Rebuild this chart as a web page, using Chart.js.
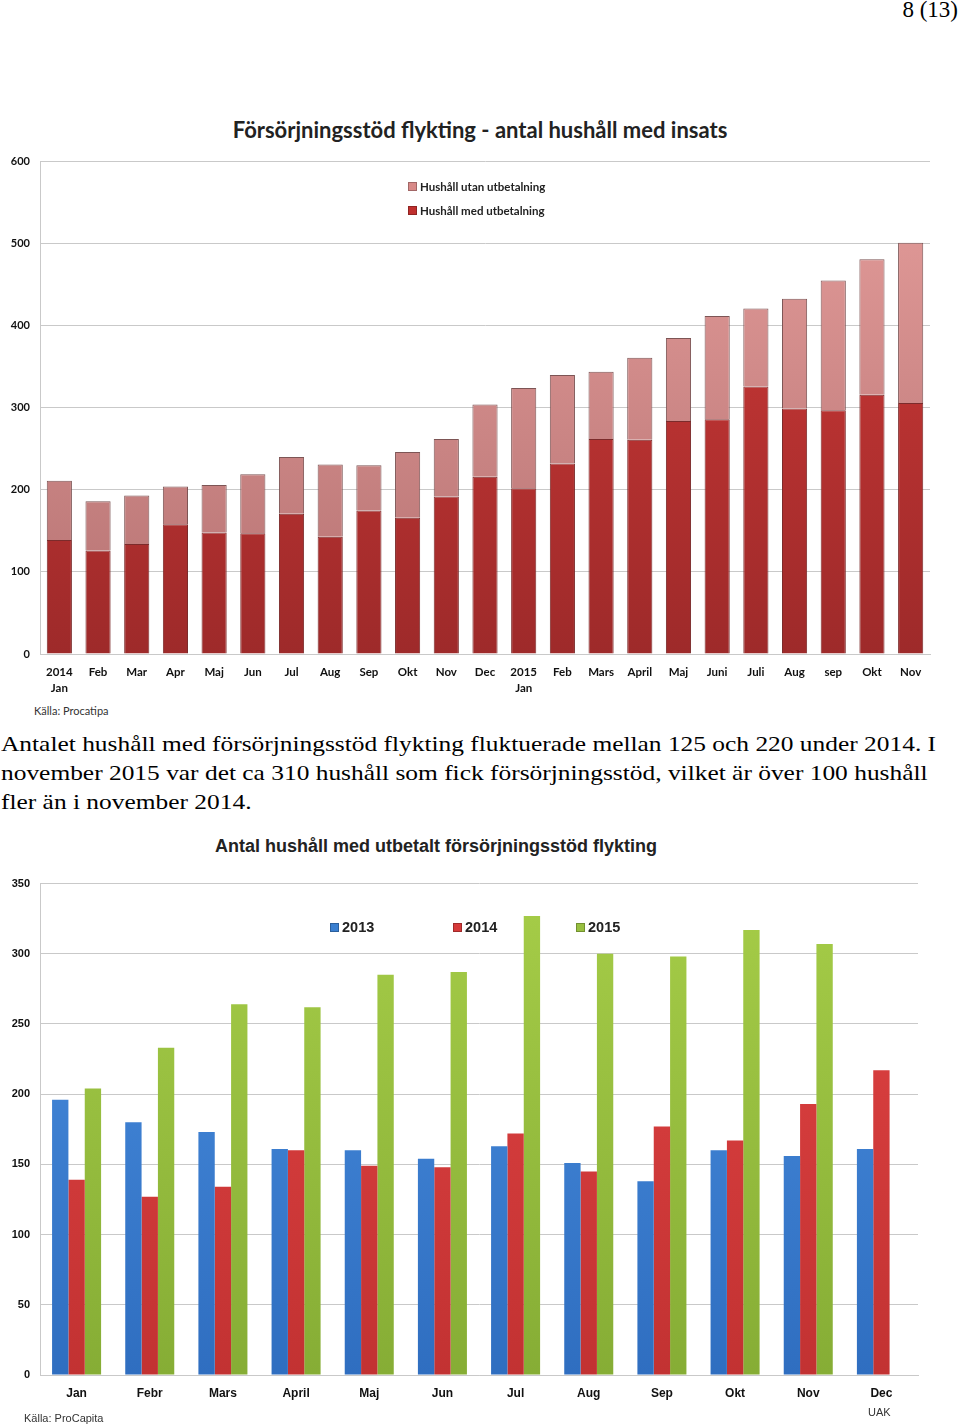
<!DOCTYPE html>
<html lang="sv">
<head>
<meta charset="UTF-8">
<title>Försörjningsstöd flykting</title>
<script src="https://cdn.jsdelivr.net/npm/chart.js"></script>
<style>
  body { margin: 0; width: 960px; height: 1428px; background: #fff; position: relative; overflow: hidden; }
  .abs { position: absolute; }
  .pageno { right: 2px; top: -3px; font: 23px "Liberation Serif", serif; }
  .title1 { left: 0; width: 960px; top: 116px; text-align: center; font: bold 22px Lato, sans-serif; color: #222; }
  .title2 { left: 0; width: 872px; top: 836px; text-align: center; font: bold 18px "Liberation Sans Narrow", "Liberation Sans", sans-serif; color: #222; }
  .src { font: 11px Lato, sans-serif; color: #333; }
  .para { left: 1px; top: 729px; font: 22px/29px "Liberation Serif", serif; color: #000; white-space: nowrap;
          transform: scaleX(1.155); transform-origin: 0 0; }
  .legend1 { left: 408px; top: 180px; font: bold 11.5px Lato, sans-serif; color: #222; }
  .legend1 div { height: 24px; }
  .legend2 { left: 330px; top: 919px; font: bold 14.5px "Liberation Sans", sans-serif; color: #222; display: flex; }
  .legend2 div { width: 123px; }
  .sw { display: inline-block; width: 7px; height: 7px; margin-right: 3px; border: 1px solid rgba(0,0,0,0.25); }
</style>
</head>
<body>
<div class="abs pageno">8 (13)</div>

<div class="abs title1">Försörjningsstöd flykting - antal hushåll med insats</div>
<div class="abs" style="left:0;top:145px;width:960px;height:555px"><canvas id="chart1"></canvas></div>
<div class="abs legend1" id="legend1"></div>
<div class="abs src" style="left:34px;top:704px">Källa: Procatipa</div>

<div class="abs para">Antalet hushåll med försörjningsstöd flykting fluktuerade mellan 125 och 220 under 2014. I<br>november 2015 var det ca 310 hushåll som fick försörjningsstöd, vilket är över 100 hushåll<br>fler än i november 2014.</div>

<div class="abs title2">Antal hushåll med utbetalt försörjningsstöd flykting</div>
<div class="abs" style="left:0;top:867px;width:960px;height:550px"><canvas id="chart2"></canvas></div>
<div class="abs legend2" id="legend2"></div>
<div class="abs src" style="left:24px;top:1412px;font-family:'Liberation Sans Narrow','Liberation Sans',sans-serif">Källa: ProCapita</div>
<div class="abs src" style="left:868px;top:1406px;font-family:'Liberation Sans Narrow','Liberation Sans',sans-serif">UAK</div>

<script>
// --- top chart: hushåll med insats, jan 2014 - nov 2015 ---
const months1 = [['2014', 'Jan'], 'Feb', 'Mar', 'Apr', 'Maj', 'Jun', 'Jul', 'Aug', 'Sep', 'Okt', 'Nov', 'Dec',
                 ['2015', 'Jan'], 'Feb', 'Mars', 'April', 'Maj', 'Juni', 'Juli', 'Aug', 'sep', 'Okt', 'Nov'];
const medUtbetalning  = [139, 126, 134, 158, 148, 147, 171, 143, 175, 166, 192, 216,
                         202, 232, 262, 261, 284, 286, 326, 299, 297, 316, 306];
const utanUtbetalning = [72, 60, 59, 46, 58, 72, 69, 88, 55, 80, 70, 88,
                         122, 108, 82, 100, 101, 126, 95, 134, 158, 165, 195];
const ticks1 = [0, 100, 200, 300, 400, 500, 600];

// --- bottom chart: utbetalt per månad och år ---
const months2 = ['Jan', 'Febr', 'Mars', 'April', 'Maj', 'Jun', 'Jul', 'Aug', 'Sep', 'Okt', 'Nov', 'Dec'];
const y2013 = [196, 180, 173, 161, 160, 154, 163, 151, 138, 160, 156, 161];
const y2014 = [139, 127, 134, 160, 149, 148, 172, 145, 177, 167, 193, 217];
const y2015 = [204, 233, 264, 262, 285, 287, 327, 300, 298, 317, 307, null];
const ticks2 = [0, 50, 100, 150, 200, 250, 300, 350];

const gridColor = '#c9c9c9';

// vertical gradient over the chart area, falls back to flat colour before layout
function grad(top, bottom) {
    return (ctx) => {
        const area = ctx.chart.chartArea;
        if (!area) return bottom;
        const g = ctx.chart.ctx.createLinearGradient(0, area.top, 0, area.bottom);
        g.addColorStop(0, top);
        g.addColorStop(1, bottom);
        return g;
    };
}

function yAxis(max, list, font) {
    return {
        min: 0, max: max,
        afterFit: (s) => { s.width = 40; },
        afterBuildTicks: (s) => { s.ticks = list.map(v => ({ value: v })); },
        grid: { color: gridColor, drawTicks: false },
        border: { color: gridColor },
        ticks: { padding: 10, color: '#111', font: font }
    };
}

const chart1 = new Chart(document.getElementById('chart1'), {
    type: 'bar',
    data: {
        labels: months1,
        datasets: [{
            label: 'Hushåll med utbetalning',
            data: medUtbetalning,
            backgroundColor: grad('#d23a38', '#9e2a2a'),
            legendColor: '#c0302e',
            borderColor: '#7b2b2b',
            borderWidth: 1
        }, {
            label: 'Hushåll utan utbetalning',
            data: utanUtbetalning,
            backgroundColor: grad('#e59d9b', '#b57272'),
            legendColor: '#d88a88',
            borderColor: '#7d5555',
            borderWidth: 1
        }]
    },
    options: {
        responsive: true,
        maintainAspectRatio: false,
        animation: false,
        layout: { padding: { top: 6, right: 30 } },
        plugins: { legend: { display: false }, tooltip: { enabled: false } },
        datasets: { bar: { categoryPercentage: 0.65, barPercentage: 1 } },
        scales: {
            x: {
                stacked: true,
                afterFit: (s) => { s.height = 46; },
                grid: { display: false },
                border: { color: gridColor },
                ticks: { padding: 3, maxRotation: 0, autoSkip: false, color: '#111',
                         font: { family: 'Lato', weight: 'bold', size: 11.5, lineHeight: 1.35 } }
            },
            y: Object.assign(yAxis(600, ticks1, { family: 'Lato', weight: 'bold', size: 11 }), { stacked: true })
        }
    }
});

const chart2 = new Chart(document.getElementById('chart2'), {
    type: 'bar',
    data: {
        labels: months2,
        datasets: [{
            label: '2013', data: y2013,
            backgroundColor: grad('#4a8fe0', '#2f6ec0'), legendColor: '#3a7fd0'
        }, {
            label: '2014', data: y2014,
            backgroundColor: grad('#e24444', '#c23232'), legendColor: '#d63a3a'
        }, {
            label: '2015', data: y2015,
            backgroundColor: grad('#a6cd48', '#86ad35'), legendColor: '#98c040'
        }]
    },
    options: {
        responsive: true,
        maintainAspectRatio: false,
        animation: false,
        layout: { padding: { top: 6, right: 42 } },
        plugins: { legend: { display: false }, tooltip: { enabled: false } },
        datasets: { bar: { categoryPercentage: 0.67, barPercentage: 1 } },
        scales: {
            x: {
                afterFit: (s) => { s.height = 42; },
                grid: { display: false },
                border: { color: gridColor },
                ticks: { padding: 3, color: '#111',
                         font: { family: "'Liberation Sans Narrow', 'Liberation Sans'", weight: 'bold', size: 12 } }
            },
            y: yAxis(350, ticks2, { family: "'Liberation Sans'", weight: 'bold', size: 11 })
        }
    }
});

// html legends built from the datasets (drawn inside the plot areas)
function buildLegend(chart, id, reverse) {
    let sets = chart.data.datasets.slice();
    if (reverse) sets.reverse();
    document.getElementById(id).innerHTML = sets.map(d =>
        '<div><span class="sw" style="background:' + d.legendColor + '"></span>' + d.label + '</div>'
    ).join('');
}
buildLegend(chart1, 'legend1', true);
buildLegend(chart2, 'legend2', false);
</script>
</body>
</html>
